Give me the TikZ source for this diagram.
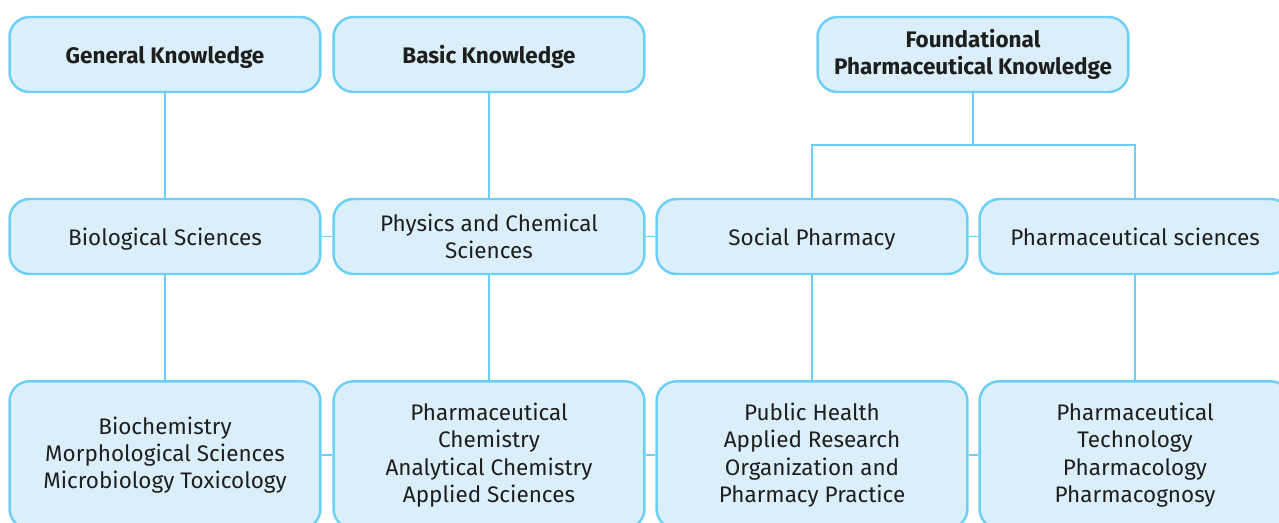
\documentclass[tikz,border=0pt]{standalone}
\usepackage{fontspec}
\setmainfont{Fira Sans}
\definecolor{boxfill}{HTML}{DBEFFB}
\definecolor{boxline}{HTML}{6DCFF6}
\definecolor{txt}{HTML}{1E1E1E}
\usetikzlibrary{calc}

\begin{document}
\begin{tikzpicture}[x=0.02cm,y=-0.02cm,
  box/.style={draw=boxline,line width=1.4pt,fill=boxfill,rounded corners=0.4cm,
    minimum width=6.22cm,minimum height=1.5cm,align=center,text=txt,
    font=\fontsize{12.8}{15.5}\selectfont,inner sep=0pt},
  one/.style={box,text depth=0pt},
  head/.style={box,font=\fontsize{12.8}{15.5}\selectfont\bfseries},
  tall/.style={box,minimum height=2.95cm},
  link/.style={draw=boxline,line width=0.9pt}]
\clip (0,0) rectangle (1279,522);
\def\ra{54.5}
\def\rb{236.5}
\def\rc{455}
% top row
\node[head,text depth=0pt] (b11) at (165, \ra) {General Knowledge};
\node[head,text depth=0pt] (b12) at (489, \ra) {Basic Knowledge};
\node[head] (b13) at (973, \ra) {Foundational\\Pharmaceutical Knowledge};
% middle row
\node[one] (b21) at (165, \rb) {Biological Sciences};
\node[box] (b22) at (489, \rb) {Physics and Chemical\\Sciences};
\node[one] (b23) at (812, \rb) {Social Pharmacy};
\node[one] (b24) at (1135, \rb) {Pharmaceutical sciences};
% bottom row
\node[tall] (b31) at (165, \rc) {Biochemistry\\Morphological Sciences\\Microbiology Toxicology};
\node[tall] (b32) at (489, \rc) {Pharmaceutical\\Chemistry\\Analytical Chemistry\\Applied Sciences};
\node[tall] (b33) at (812, \rc) {Public Health\\Applied Research\\Organization and\\Pharmacy Practice};
\node[tall] (b34) at (1135, \rc) {Pharmaceutical\\Technology\\Pharmacology\\Pharmacognosy};
\coordinate (j13) at (973, 145);

\draw[link] (b11) -- (b21) -- (b31);
\draw[link] (b12) -- (b22) -- (b32);
\draw[link] (b23) -- (b33);
\draw[link] (b24) -- (b34);
\draw[link] (b13) -- (j13);
\draw[link] (b23.north) |- (j13) -| (b24.north);
\draw[link] (b21) -- (b22) -- (b23) -- (b24);
\draw[link] (b31) -- (b32) -- (b33) -- (b34);
\end{tikzpicture}
\end{document}
